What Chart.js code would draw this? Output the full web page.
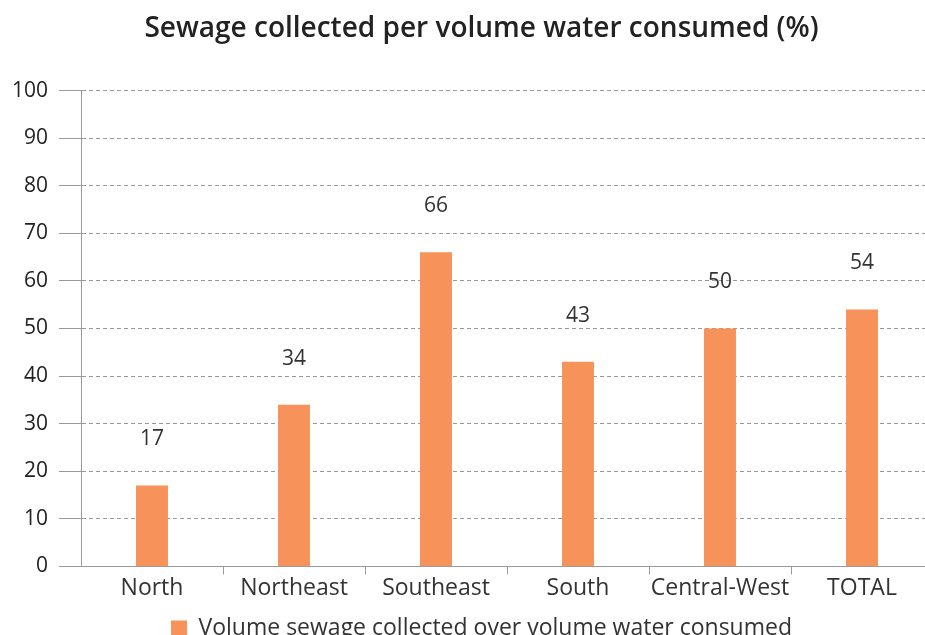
<!DOCTYPE html>
<html>
<head>
<meta charset="utf-8">
<title>Sewage collected per volume water consumed</title>
<script src="https://cdn.jsdelivr.net/npm/chart.js@4/dist/chart.umd.min.js"></script>
<style>
  html, body { margin: 0; padding: 0; background: #fff; overflow: hidden; }
  #wrap { width: 963px; height: 650px; }
</style>
</head>
<body>
<div id="wrap"><canvas id="sewageChart" width="963" height="650"></canvas></div>
<script>
// データ
const regions = ['North', 'Northeast', 'Southeast', 'South', 'Central-West', 'TOTAL'];
const sewagePct = [17, 34, 66, 43, 50, 54];
const yTicks = [0, 10, 20, 30, 40, 50, 60, 70, 80, 90, 100];
const seriesName = 'Volume sewage collected over volume water consumed';
const chartTitle = 'Sewage collected per volume water consumed (%)';

const FONT = '"Open Sans", sans-serif';
const BAR_COLOR = '#F7925A';
const LINE_COLOR = '#9a9a9a';

// 棒の上に値を表示
const valueLabels = {
    id: 'valueLabels',
    afterDatasetsDraw(chart) {
        const ctx = chart.ctx;
        const meta = chart.getDatasetMeta(0);
        ctx.save();
        ctx.font = '21px ' + FONT;
        ctx.fillStyle = '#333';
        ctx.textAlign = 'center';
        ctx.textBaseline = 'middle';
        meta.data.forEach((bar, i) => {
            ctx.fillText(String(sewagePct[i]), bar.x, bar.y - 46);
        });
        ctx.restore();
    }
};

new Chart(document.getElementById('sewageChart'), {
    type: 'bar',
    data: {
        labels: regions,
        datasets: [{
            label: seriesName,
            data: sewagePct,
            backgroundColor: BAR_COLOR,
            borderWidth: 0,
            categoryPercentage: 1,
            barPercentage: 0.225
        }]
    },
    options: {
        responsive: false,
        animation: false,
        layout: { padding: 0 },
        plugins: {
            title: {
                display: true,
                text: chartTitle,
                color: '#222',
                font: { family: FONT, size: 28, weight: '600' },
                padding: { top: 12, bottom: 45 }
            },
            legend: {
                display: true,
                position: 'bottom',
                labels: {
                    color: '#333',
                    font: { family: FONT, size: 23 },
                    boxWidth: 16,
                    boxHeight: 16,
                    padding: 15
                }
            },
            tooltip: { enabled: false }
        },
        scales: {
            x: {
                grid: {
                    display: true,
                    drawOnChartArea: false,
                    offset: true,
                    tickLength: 8,
                    color: (c) => c.index === 0 ? 'rgba(0,0,0,0)' : LINE_COLOR
                },
                border: { display: true, color: LINE_COLOR, width: 1 },
                ticks: {
                    color: '#333',
                    font: { family: FONT, size: 23 },
                    padding: 0,
                    maxRotation: 0,
                    autoSkip: false
                }
            },
            y: {
                min: 0,
                max: 100,
                afterBuildTicks: (scale) => { scale.ticks = yTicks.map(v => ({ value: v })); },
                afterFit: (scale) => { scale.width = 81; },
                grid: {
                    color: LINE_COLOR,
                    lineWidth: 1,
                    tickLength: 22,
                    tickBorderDash: []
                },
                border: { display: true, color: LINE_COLOR, width: 1, dash: [4, 3] },
                ticks: {
                    color: '#222',
                    font: { family: FONT, size: 21 },
                    padding: 11
                }
            },
            // 右側の余白用（何も描かない）
            spacer: {
                type: 'linear',
                position: 'right',
                display: true,
                grid: { display: false },
                border: { display: false },
                ticks: { display: false },
                afterFit: (scale) => { scale.width = 30; }
            }
        }
    },
    plugins: [valueLabels]
});
</script>
</body>
</html>
